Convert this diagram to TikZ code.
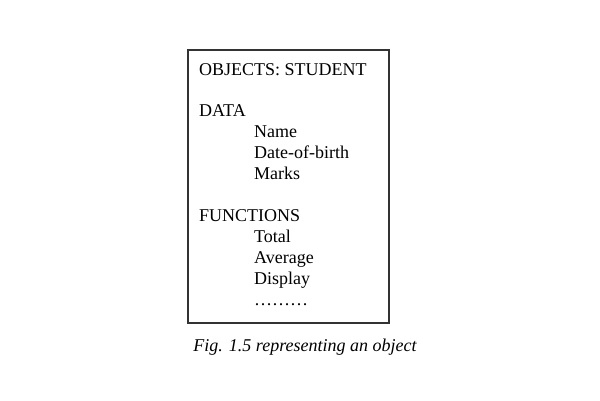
\documentclass[tikz,border=0pt]{standalone}
\usepackage{fontspec}
\setmainfont{Liberation Serif}
\usetikzlibrary{positioning}
\usetikzlibrary{math}

\begin{document}
\begin{tikzpicture}[x=1pt,y=1pt,
    entry/.style={anchor=base west, inner sep=0pt, font=\fontsize{18}{21}\selectfont}]
      \tikzmath{
        \l = 199;
        \i = 254;
        \s = 21;
      }
      \useasboundingbox (0,0) rectangle (600,-400);
      % object box
      \draw[black!80, line width=1.4pt] (188,-50) rectangle (389,-323);

      % heading
      \node[entry] (title) at (\l,-75) {OBJECTS: STUDENT};

      % data members
      \node[entry] (data) at (\l,-116.5) {DATA};
      \node[entry] (name) at (\i,-116.5-\s) {Name};
      \node[entry] (dob) at (\i,-116.5-2*\s) {Date-of-birth};
      \node[entry] (marks) at (\i,-116.5-3*\s) {Marks};

      % member functions
      \node[entry] (functions) at (\l,-221) {FUNCTIONS};
      \node[entry] (total) at (\i,-221-\s) {Total};
      \node[entry] (average) at (\i,-221-2*\s) {Average};
      \node[entry] (display) at (\i,-221-3*\s) {Display};
      \node[entry] (more) at (\i,-221-4*\s) {………};

      % caption
      \node[anchor=base, inner sep=0pt, font=\fontsize{18}{21}\selectfont\itshape] (caption) at (305,-351) {Fig. 1.5 representing an object};
\end{tikzpicture}
\end{document}
